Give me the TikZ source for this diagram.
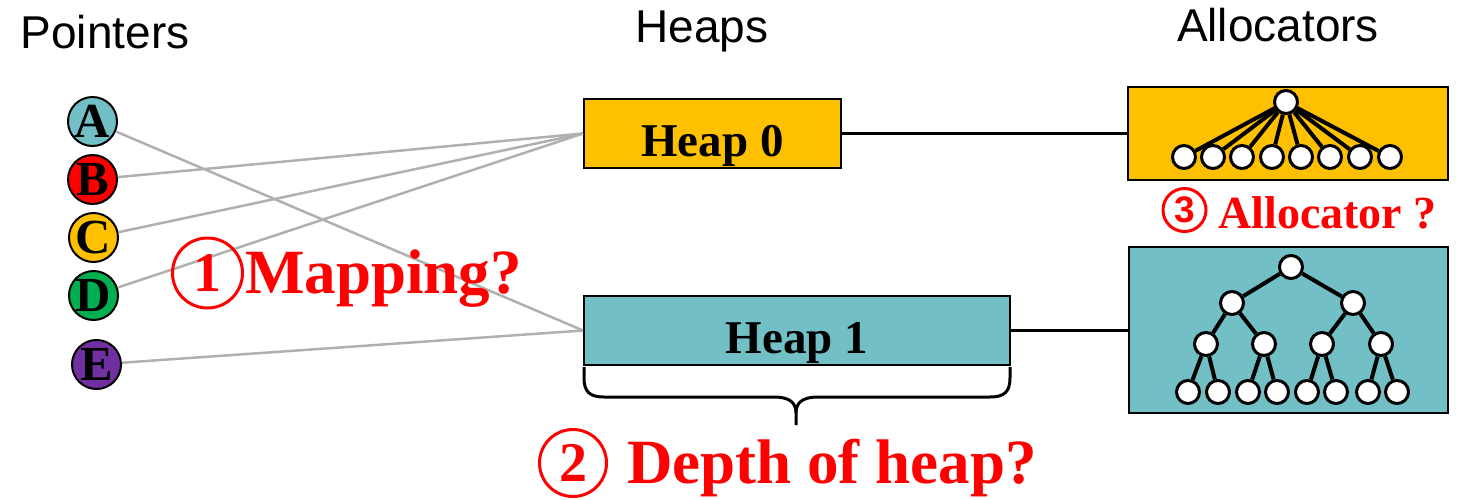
\documentclass[tikz,border=0pt]{standalone}
\usepackage{fontspec}
\setmainfont{Liberation Serif}
\newfontfamily\sansf{Liberation Sans}
\definecolor{gold}{RGB}{255,192,0}
\definecolor{teal2}{RGB}{114,191,197}
\definecolor{pgreen}{RGB}{0,176,80}
\definecolor{ppurple}{RGB}{112,48,160}
\definecolor{linegray}{RGB}{176,176,176}
\begin{document}
\begin{tikzpicture}[x=1pt,y=-1pt,
  hdr/.style={font=\sansf\fontsize{46}{50}\selectfont, inner sep=0, anchor=base},
  ptr/.style={circle, draw, line width=2pt, minimum size=49pt, inner sep=0, font=\bfseries\fontsize{49}{49}\selectfont},
  map/.style={draw=linegray, line width=2.5pt},
  heapbox/.style={draw, line width=2pt, inner sep=0, text height=57pt, text depth=12pt, font=\bfseries\fontsize{47}{47}\selectfont},
  allocbox/.style={draw, line width=2pt, inner sep=0},
  tn/.style={circle, draw, fill=white, line width=3pt, minimum size=23pt, inner sep=0},
  te/.style={line width=4pt},
  link/.style={line width=3pt},
  q/.style={text=red, inner sep=0, anchor=base west},
  num/.style={circle, draw=red, line width=3pt, text=red, inner sep=0}
]
\useasboundingbox (0,0) rectangle (1473,499);

% headers
\node[hdr] (tp) at (105,48) {Pointers};
\node[hdr] (th) at (702,42) {Heaps};
\node[hdr] (ta) at (1278,41) {Allocators};

% heaps
\node[heapbox, fill=gold, minimum width=257pt] (h0) at (712.5,133.5) {Heap 0};
\node[heapbox, fill=teal2, minimum width=426pt] (h1) at (797,330.5) {Heap 1};

% allocators
\node[allocbox, fill=gold, minimum width=320pt, minimum height=93pt] (a0) at (1288,133.5) {};
\node[allocbox, fill=teal2, minimum width=319pt, minimum height=166pt] (a1) at (1288.5,330) {};

\draw[link] (h0.east) -- (a0.west);
\draw[link] (h1.east) -- (a1.west |- h1.east);

% pointers
\node[ptr, fill=teal2] (pA) at (92.5,121.5) {A};
\node[ptr, fill=red] (pB) at (92.5,179.5) {B};
\node[ptr, fill=gold] (pC) at (93.5,237.5) {C};
\node[ptr, fill=pgreen] (pD) at (93.5,295.5) {D};
\node[ptr, fill=ppurple] (pE) at (96.5,364.5) {E};

\draw[map] (pA) -- (h1.west);
\draw[map] (pB) -- (h0.west);
\draw[map] (pC) -- (h0.west);
\draw[map] (pD) -- (h0.west);
\draw[map] (pE) -- (h1.west);

% allocator 0: flat tree
\node[tn] (r0) at (1286,102) {};
\foreach \x [count=\i] in {1184,1213,1242,1272,1301,1330,1360,1390} {
  \node[tn] (l\i) at (\x,157) {};
  \draw[te] (r0) -- (l\i);
}

% allocator 1: binary tree
\node[tn] (b1) at (1291,267) {};
\node[tn] (b2) at (1232,303) {};
\node[tn] (b3) at (1353,303) {};
\node[tn] (b4) at (1206,344) {};
\node[tn] (b5) at (1264,344) {};
\node[tn] (b6) at (1322,344) {};
\node[tn] (b7) at (1381,344) {};
\foreach \x [count=\i from 8] in {1188,1218,1248,1277,1307,1336,1368,1397} {
  \node[tn] (b\i) at (\x,392) {};
}
\foreach \p/\c in {1/2,1/3,2/4,2/5,3/6,3/7,4/8,4/9,5/10,5/11,6/12,6/13,7/14,7/15} {
  \draw[te] (b\p) -- (b\c);
}

% brace
\draw[line width=3pt] (584,367) -- (584,378) .. controls (584,392) and (590,397) .. (604,397) -- (774,397)
  .. controls (790,397) and (796,403) .. (796,413) -- (796,425);
\draw[line width=3pt] (1010,367) -- (1010,378) .. controls (1010,392) and (1004,397) .. (990,397) -- (818,397)
  .. controls (802,397) and (796,403) .. (796,413);

% questions
\node[num, minimum size=70pt, font=\bfseries\fontsize{56}{56}\selectfont] (n1) at (207.5,273) {1};
\node[q, font=\bfseries\fontsize{63}{63}\selectfont] (qm) at (245,293) {Mapping?};

\node[num, minimum size=67pt, font=\bfseries\fontsize{56}{56}\selectfont] (n2) at (573,463) {2};
\node[q, font=\bfseries\fontsize{63}{63}\selectfont] (qd) at (627,483) {Depth of heap?};

\node[num, minimum size=43pt, font=\sansf\bfseries\fontsize{37}{37}\selectfont] (n3) at (1184.5,210) {3};
\node[q, font=\bfseries\fontsize{46}{46}\selectfont] (qa) at (1218,228) {Allocator ?};
\end{tikzpicture}
\end{document}
